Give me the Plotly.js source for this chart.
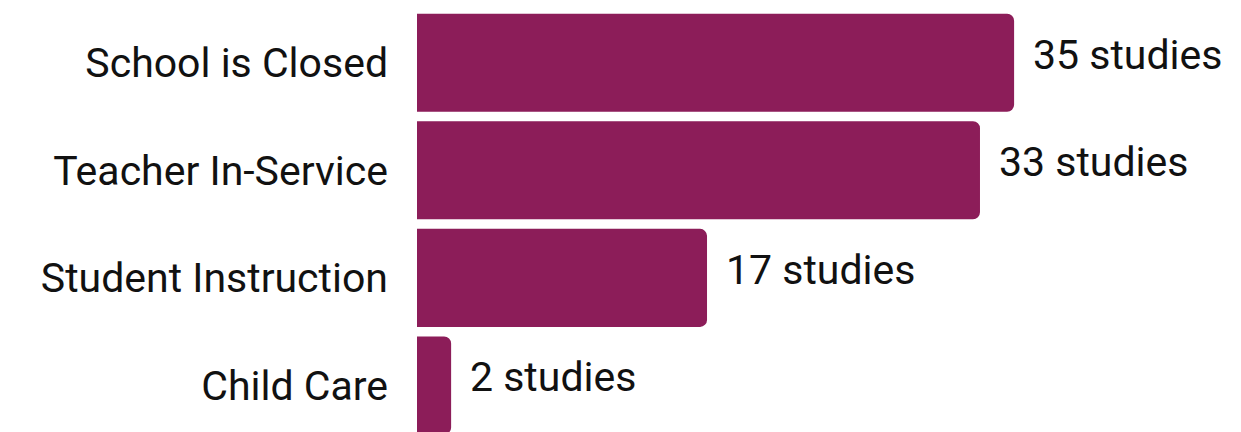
<!DOCTYPE html>
<html>
<head>
<meta charset="utf-8">
<script src="https://cdn.plot.ly/plotly-3.0.1.min.js"></script>
<style>html,body{margin:0;padding:0;background:#fff;}#chart{width:1241px;height:432px;}</style>
</head>
<body>
<div id="chart"></div>
<script>
const categories = ["School is Closed", "Teacher In-Service", "Student Instruction", "Child Care"];
const studies = [35, 33, 17, 2];
const valueLabels = studies.map(v => v + " studies");

const FONT = "Roboto, 'DejaVu Sans', sans-serif";
const idx = categories.map((c, i) => i);

const trace = {
  type: "bar",
  orientation: "h",
  x: studies,
  y: idx,
  marker: {color: "#8C1D59"},
  hoverinfo: "none"
};

const annotations = studies.map((v, i) => ({
  x: v, y: i, xref: "x", yref: "y",
  text: valueLabels[i],
  showarrow: false,
  xanchor: "left", yanchor: "middle",
  xshift: 17, yshift: 8,
  font: {family: FONT, size: 41, color: "#111"}
}));

const layout = {
  width: 1241, height: 432,
  margin: {l: 417, r: 0, t: 9, b: 0, pad: 0},
  paper_bgcolor: "#fff", plot_bgcolor: "#fff",
  showlegend: false,
  bargap: 0.088,
  barcornerradius: 7,
  xaxis: {range: [0, 48.3], visible: false, fixedrange: true},
  yaxis: {
    range: [3.433, -0.5],
    tickmode: "array", tickvals: idx, ticktext: categories,
    showgrid: false, zeroline: false, showline: false,
    ticks: "", ticklabelstandoff: 28,
    tickfont: {family: FONT, size: 41, color: "#111"},
    fixedrange: true
  },
  annotations: annotations
};

Plotly.newPlot("chart", [trace], layout, {displayModeBar: false, staticPlot: true});
</script>
</body>
</html>
